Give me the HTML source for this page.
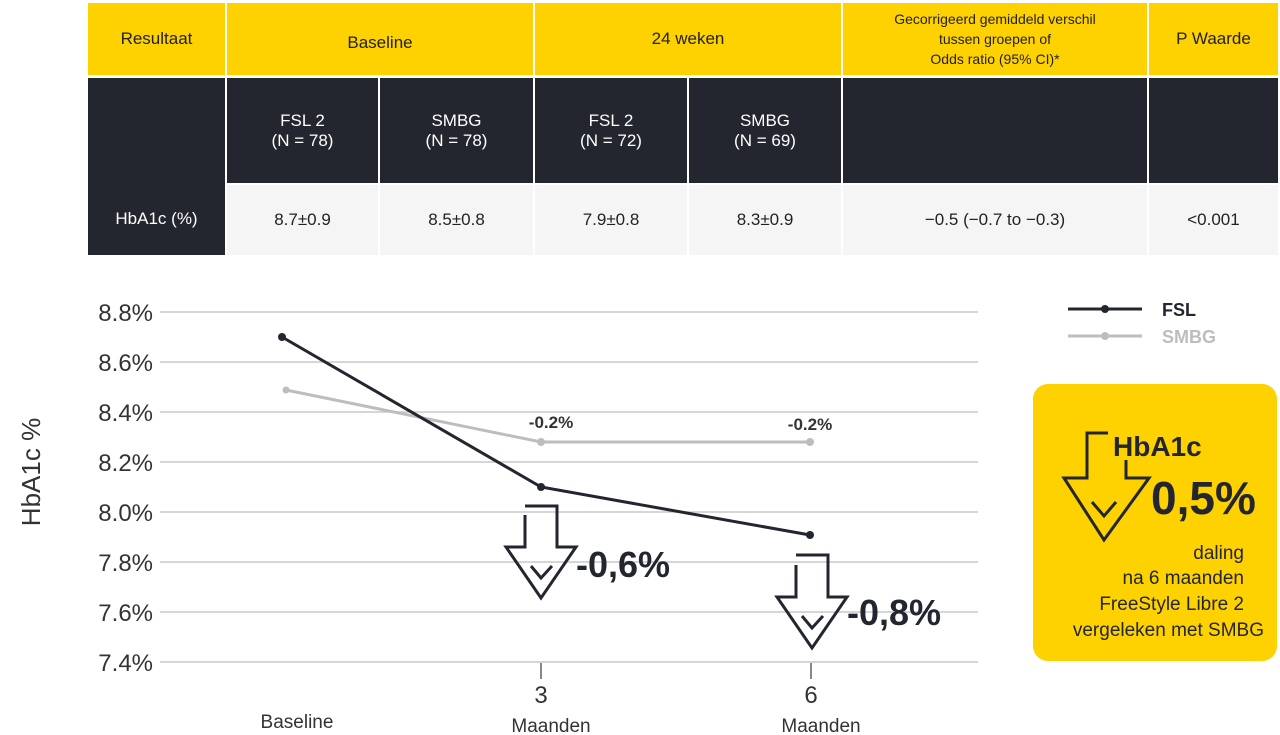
<!DOCTYPE html>
<html><head><meta charset="utf-8"><style>
body{margin:0;width:1280px;height:735px;background:#fff;position:relative;overflow:hidden;font-family:"Liberation Sans",Arial,sans-serif;}
.c{position:absolute;display:flex;align-items:center;justify-content:center;text-align:center;font-size:17px;line-height:20px;box-sizing:border-box;}
.y{background:#fed100;color:#222;}
.d{background:#23262f;color:#fff;}
.g{background:#f5f5f5;color:#222;}
</style></head><body>
<div class="c y" style="left:88px;top:3px;width:137px;height:72px">Resultaat</div>
<div class="c y" style="left:227px;top:3px;width:306px;height:72px;align-items:flex-start;padding-top:30px">Baseline</div>
<div class="c y" style="left:535px;top:3px;width:306px;height:72px">24 weken</div>
<div class="c y" style="left:843px;top:3px;width:304px;height:72px;font-size:14px;line-height:20px">Gecorrigeerd gemiddeld verschil<br>tussen groepen of<br>Odds ratio (95% CI)*</div>
<div class="c y" style="left:1149px;top:3px;width:129px;height:72px">P Waarde</div>
<div class="c d" style="left:88px;top:78px;width:137px;height:177px;padding-top:105px">HbA1c (%)</div>
<div class="c d" style="left:227px;top:78px;width:151px;height:105px">FSL 2<br>(N = 78)</div>
<div class="c d" style="left:380px;top:78px;width:153px;height:105px">SMBG<br>(N = 78)</div>
<div class="c d" style="left:535px;top:78px;width:152px;height:105px">FSL 2<br>(N = 72)</div>
<div class="c d" style="left:689px;top:78px;width:152px;height:105px">SMBG<br>(N = 69)</div>
<div class="c d" style="left:843px;top:78px;width:304px;height:105px"></div>
<div class="c d" style="left:1149px;top:78px;width:129px;height:105px"></div>
<div class="c g" style="left:227px;top:185px;width:151px;height:70px">8.7±0.9</div>
<div class="c g" style="left:380px;top:185px;width:153px;height:70px">8.5±0.8</div>
<div class="c g" style="left:535px;top:185px;width:152px;height:70px">7.9±0.8</div>
<div class="c g" style="left:689px;top:185px;width:152px;height:70px">8.3±0.9</div>
<div class="c g" style="left:843px;top:185px;width:304px;height:70px">−0.5 (−0.7 to −0.3)</div>
<div class="c g" style="left:1149px;top:185px;width:129px;height:70px">&lt;0.001</div>

<svg width="1280" height="735" style="position:absolute;left:0;top:0" font-family="Liberation Sans, Arial, sans-serif">
<g stroke="#c8c8c8" stroke-width="1.5">
<line x1="160" x2="978" y1="312" y2="312"/><line x1="160" x2="978" y1="362" y2="362"/>
<line x1="160" x2="978" y1="412" y2="412"/><line x1="160" x2="978" y1="462" y2="462"/>
<line x1="160" x2="978" y1="512" y2="512"/><line x1="160" x2="978" y1="562" y2="562"/>
<line x1="160" x2="978" y1="612" y2="612"/><line x1="160" x2="978" y1="662" y2="662"/>
</g>
<g stroke="#888" stroke-width="2"><line x1="541" x2="541" y1="663" y2="679"/><line x1="811" x2="811" y1="663" y2="679"/></g>
<g font-size="24" fill="#333" text-anchor="end">
<text x="153" y="321">8.8%</text><text x="153" y="371">8.6%</text><text x="153" y="421">8.4%</text><text x="153" y="471">8.2%</text>
<text x="153" y="521">8.0%</text><text x="153" y="571">7.8%</text><text x="153" y="621">7.6%</text><text x="153" y="671">7.4%</text>
</g>
<text transform="translate(40,472) rotate(-90)" font-size="26" fill="#333" text-anchor="middle">HbA1c %</text>
<g font-size="19" fill="#333" text-anchor="middle">
<text x="297" y="728">Baseline</text>
<text x="541" y="703" font-size="24">3</text><text x="551" y="732">Maanden</text>
<text x="811" y="703" font-size="24">6</text><text x="821" y="732">Maanden</text>
</g>
<polyline points="286,390 541,442 810,442" fill="none" stroke="#bdbdbd" stroke-width="3"/>
<g fill="#bdbdbd"><circle cx="286" cy="390" r="3.5"/><circle cx="541" cy="442" r="4"/><circle cx="810" cy="442" r="4"/></g>
<polyline points="282,337 541,487 810,535" fill="none" stroke="#23262f" stroke-width="3"/>
<g fill="#23262f"><circle cx="282" cy="337" r="4"/><circle cx="541" cy="487" r="4"/><circle cx="810" cy="535" r="4"/></g>
<g font-size="17" font-weight="bold" fill="#333" text-anchor="middle"><text x="551" y="428">-0.2%</text><text x="810" y="430">-0.2%</text></g>
<line x1="1068" x2="1142" y1="309" y2="309" stroke="#23262f" stroke-width="3"/><circle cx="1105" cy="309" r="4" fill="#23262f"/>
<text x="1162" y="316" font-size="18" font-weight="bold" fill="#23262f">FSL</text>
<line x1="1068" x2="1142" y1="336" y2="336" stroke="#bdbdbd" stroke-width="3"/><circle cx="1105" cy="336" r="4" fill="#bdbdbd"/>
<text x="1162" y="343" font-size="18" font-weight="bold" fill="#bdbdbd">SMBG</text>
<g fill="none" stroke="#23262f" stroke-width="3">
<path d="M525,506 H557 V547 H576 L541,598 L506,547 H525 V515"/>
<path d="M531,566 L541,578 L552,566"/>
<path d="M796,555 H828 V597 H847 L812,648 L777,597 H796 V565"/>
<path d="M802,616 L812,628 L823,616"/>
</g>
<g font-size="36" font-weight="bold" fill="#23262f"><text x="576" y="577">-0,6%</text><text x="847" y="625">-0,8%</text></g>
<rect x="1033" y="384" width="244" height="277" rx="15" fill="#fed100"/>
<g fill="none" stroke="#23262f" stroke-width="3">
<path d="M1108,433 H1087 V478 H1064 L1104,540 L1149,478 H1126 V460"/>
<path d="M1092,502 L1104,516 L1116,502"/>
</g>
<text x="1113" y="456" font-size="28" font-weight="bold" fill="#23262f">HbA1c</text>
<text x="1151" y="514" font-size="46" font-weight="bold" fill="#23262f">0,5%</text>
<g font-size="19" fill="#23262f" text-anchor="end">
<text x="1244" y="559">daling</text><text x="1244" y="584">na 6 maanden</text>
<text x="1244" y="610">FreeStyle Libre 2</text><text x="1264" y="636">vergeleken met SMBG</text>
</g>
</svg>
</body></html>
